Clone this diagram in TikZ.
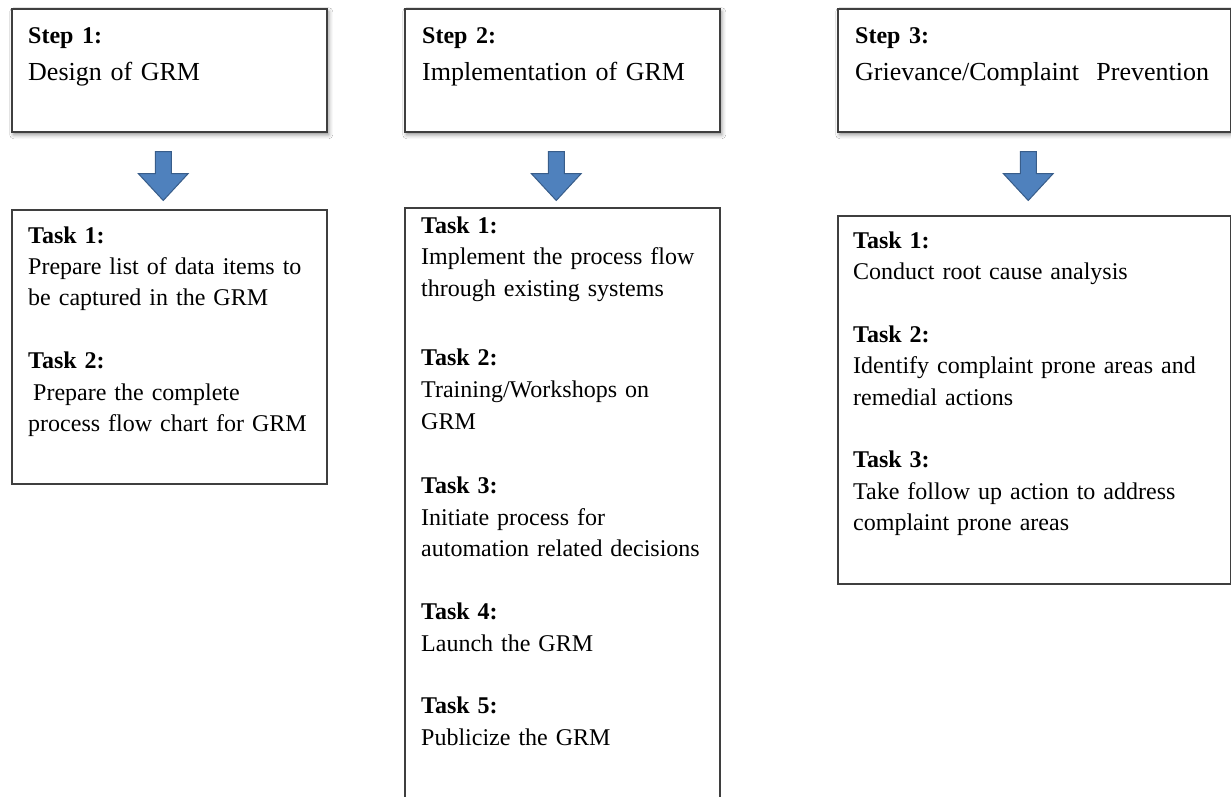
\documentclass[tikz,border=0pt]{standalone}
\usepackage{fontspec}
\setmainfont{Liberation Serif}[WordSpace=0.8]
\usetikzlibrary{calc,shadows.blur}
\definecolor{boxline}{HTML}{3F3F3F}
\definecolor{arrowfill}{HTML}{4F81BD}
\definecolor{arrowline}{HTML}{385D8A}
\begin{document}
\begin{tikzpicture}[x=1pt,y=-1pt,
  stepbox/.style={draw=boxline, line width=1.5pt, fill=white, inner sep=0pt, anchor=north west,
    blur shadow={shadow xshift=2pt, shadow yshift=-3pt, shadow blur radius=4pt, shadow opacity=45}},
  taskbox/.style={draw=boxline, line width=1.5pt, fill=white, inner sep=0pt, anchor=north west},
  steptext/.style={anchor=base west, inner sep=0pt, text width=370pt, align=left, font=\fontsize{26}{37}\selectfont},
  tasktext/.style={anchor=base west, inner sep=0pt, text width=370pt, align=left, font=\fontsize{24}{31.4}\selectfont},
  blockarrow/.style={fill=arrowfill, draw=arrowline, line width=1pt, line join=miter}]
\useasboundingbox (0,0) rectangle (1231,796);
\fill[white] (0,0) rectangle (1231,796);

% step boxes
\node[stepbox, minimum width=315pt, minimum height=123pt] (s1) at (11,8) {};
\node[stepbox, minimum width=315pt, minimum height=123pt] (s2) at (404,8) {};
\node[stepbox, minimum width=393pt, minimum height=123pt] (s3) at (837,8) {};

% task boxes
\node[taskbox, minimum width=315pt, minimum height=274pt] (t1) at (11,209) {};
\node[taskbox, minimum width=315pt, minimum height=620pt] (t2) at (404,207) {};
\node[taskbox, minimum width=393pt, minimum height=368pt] (t3) at (837,215) {};

% step texts
\node[steptext] (st1) at (28,43) {{\fontsize{24}{37}\selectfont\bfseries Step 1:}\\Design of GRM};
\node[steptext] (st2) at (422,43) {{\fontsize{24}{37}\selectfont\bfseries Step 2:}\\Implementation of GRM};
\node[steptext] (st3) at (855,43) {{\fontsize{24}{37}\selectfont\bfseries Step 3:}\\Grievance/Complaint\ \ Prevention};

% task texts
\node[tasktext] (tt1) at (28,243) {\textbf{Task 1:}\\Prepare list of data items to\\be captured in the GRM\\[31.4pt]
\textbf{Task 2:}\\\hspace*{5pt}Prepare the complete\\process flow chart for GRM};
\node[tasktext, font=\fontsize{24}{31.6}\selectfont] (tt2) at (421,233) {\textbf{Task 1:}\\Implement the process flow\\through existing systems\\[38pt]
\textbf{Task 2:}\\Training/Workshops on\\GRM\\[33pt]
\textbf{Task 3:}\\Initiate process for\\automation related decisions\\[31pt]
\textbf{Task 4:}\\Launch the GRM\\[31pt]
\textbf{Task 5:}\\Publicize the GRM};
\node[tasktext] (tt3) at (853,248) {\textbf{Task 1:}\\Conduct root cause analysis\\[31.4pt]
\textbf{Task 2:}\\Identify complaint prone areas and\\remedial actions\\[31.4pt]
\textbf{Task 3:}\\Take follow up action to address\\complaint prone areas};

% block arrows
\coordinate (a1) at ($(s1.south)+(-6,19)$);
\coordinate (a2) at ($(s2.south)+(-6,19)$);
\coordinate (a3) at ($(s3.south)+(-6,19)$);
\foreach \a in {a1,a2,a3}{
  \draw[blockarrow] (\a) ++(-8,0) -- ++(16,0) -- ++(0,22) -- ++(17,0) -- ++(-25,27) -- ++(-25,-27) -- ++(17,0) -- cycle;
}
\end{tikzpicture}
\end{document}
